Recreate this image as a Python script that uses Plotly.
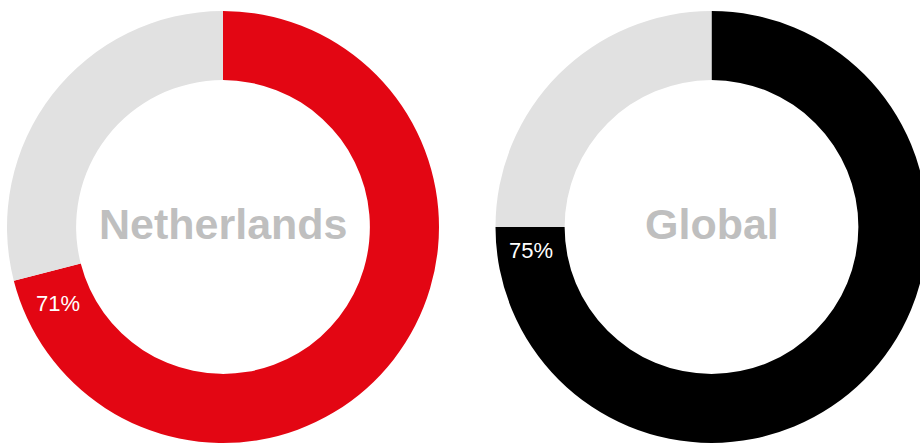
import plotly.graph_objects as go

regions = ["Netherlands", "Global"]
share = [71, 75]
labels = ["71%", "75%"]
colors = ["#e30613", "#000000"]
rest_color = "#e1e1e1"

W, H = 935, 446
centers = [(223, 227), (711.5, 227)]
R = 216
HOLE = 0.68
label_pos = [(58.5, 303), (531, 251)]

fig = go.Figure()
for i, name in enumerate(regions):
    cx, cy = centers[i]
    fig.add_trace(go.Pie(
        values=[share[i], 100 - share[i]],
        labels=[name, "Other"],
        marker=dict(colors=[colors[i], rest_color], line=dict(width=0)),
        hole=HOLE,
        sort=False,
        direction="clockwise",
        rotation=0,
        textinfo="none",
        hoverinfo="skip",
        showlegend=False,
        domain=dict(x=[(cx - R) / W, (cx + R) / W],
                    y=[(H - cy - R) / H, (H - cy + R) / H]),
    ))
    fig.add_annotation(x=cx / W, y=(H - cy + 3) / H, xref="paper", yref="paper",
                       text="<b>%s</b>" % name, showarrow=False,
                       font=dict(family="Liberation Sans, Arial, sans-serif", size=43, color="#bfbfbf"),
                       xanchor="center", yanchor="middle")
    lx, ly = label_pos[i]
    fig.add_annotation(x=lx / W, y=(H - ly) / H, xref="paper", yref="paper",
                       text=labels[i], showarrow=False,
                       font=dict(family="Liberation Sans, Arial, sans-serif", size=22, color="#ffffff"),
                       xanchor="center", yanchor="middle")

fig.update_layout(width=W, height=H, margin=dict(l=0, r=0, t=0, b=0),
                  paper_bgcolor="#ffffff", plot_bgcolor="#ffffff")

fig.write_html("out.html", config={"displayModeBar": False},
               post_script="document.body.style.margin='0';document.body.style.overflow='hidden';document.documentElement.style.overflow='hidden';")
